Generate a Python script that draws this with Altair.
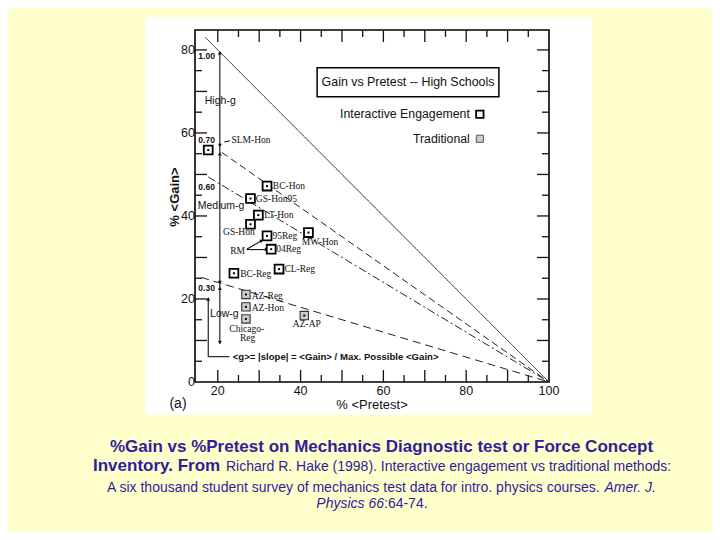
import altair as alt
import pandas as pd

W, H = 354, 352          # plot area
OX, OY = 195, 30         # page position of the plot origin
SANS = "Liberation Sans"
SERIF = "Liberation Serif"
INK = "#111111"
CAP = "#311d9c"

# ---------------- data ----------------
names = ["SLM-Hon", "BC-Hon", "GS-Hon95", "LT-Hon", "GS-Hon", "95Reg", "04Reg",
         "MW-Hon", "CL-Reg", "BC-Reg", "AZ-Reg", "AZ-Hon", "Chicago-Reg", "AZ-AP"]
pretest = [17.7, 31.9, 27.9, 29.8, 27.9, 31.9, 32.9, 41.9, 34.8, 23.9, 26.8, 26.8, 26.8, 40.9]
gain = [55.9, 47.2, 44.2, 40.2, 38.0, 35.2, 32.0, 36.0, 27.2, 26.2, 21.1, 18.1, 15.2, 16.0]
method = ["Interactive Engagement"] * 10 + ["Traditional"] * 4

# point labels (text, pretest, gain, align)
lab_text = ["SLM-Hon", "BC-Hon", "GS-Hon95", "LT-Hon", "GS-Hon", "95Reg", "04Reg",
            "MW-Hon", "CL-Reg", "BC-Reg", "AZ-Reg", "AZ-Hon", "Chicago-", "Reg", "AZ-AP", "RM"]
lab_x = [23.3, 33.3, 29.2, 31.2, 25.1, 33.2, 34.1, 44.7, 36.1, 25.4, 28.2, 28.2, 27.0, 27.2, 41.5, 24.8]
lab_y = [58.3, 47.2, 44.2, 40.2, 36.2, 35.1, 32.0, 33.7, 27.2, 25.9, 20.8, 17.8, 12.8, 10.6, 13.9, 31.6]
lab_align = ["left", "left", "left", "left", "center", "left", "left", "center",
             "left", "left", "left", "left", "center", "center", "center", "center"]

# isopleths <g> = gain / (100 - pretest)
g_names = ["1.00", "0.70", "0.60", "0.30"]
iso_x1 = [17.0, 21.0, 17.7, 16.0]
iso_y1 = [83.0, 55.3, 49.4, 25.2]
iso_x2 = [100, 100, 100, 100]
iso_y2 = [0, 0, 0, 0]
g_lab_x = [17.3, 17.3, 17.3, 17.3]
g_lab_y = [78.6, 58.2, 47.0, 22.7]

band_text = ["High-g", "Medium-g", "Low-g"]
band_x = [20.6, 20.8, 21.6]
band_y = [67.7, 42.5, 16.4]

# arrows
arrow_x1 = [20.5, 17.7, 17.7, 27.0, 27.0, 21.6]
arrow_y1 = [9.3, 6.1, 6.1, 32.0, 31.9, 57.8]
arrow_x2 = [20.5, 17.7, 22.8, 30.6, 31.8, 22.9]
arrow_y2 = [79.5, 20.3, 6.1, 34.05, 31.9, 58.1]
head_x = [20.5, 20.5, 20.5, 20.5, 20.5, 20.5, 17.7]
head_y = [79.3, 57.0, 55.0, 24.0, 22.6, 9.5, 20.0]
head_shape = ["triangle-up", "triangle-down", "triangle-up", "triangle-down",
              "triangle-up", "triangle-down", "triangle-up"]
head2_x = [30.6, 31.8]
head2_y = [34.05, 31.9]

x_major = [20, 30, 40, 50, 60, 70, 80, 90]
x_minor = [25, 35, 45, 55, 65, 75, 85, 95]
y_major = [10, 20, 30, 40, 50, 60, 70, 80]
y_minor = [5, 15, 25, 35, 45, 55, 65, 75]
x_labels = [20, 40, 60, 80, 100]
y_labels = [0, 20, 40, 60, 80]

title_box = [44.0, 87.9, 68.7, 75.7]
legend_x = 83.3
legend_y = [64.5, 58.6]

caption1 = "%Gain vs %Pretest on Mechanics Diagnostic test or Force Concept"
caption2a = "Inventory. From"
caption2b = "Richard R. Hake (1998). Interactive engagement vs traditional methods:"
caption3a = "A six thousand student survey of mechanics test data for intro. physics courses."
caption3b = "Amer. J."
caption4a = "Physics 66"
caption4b = ":64-74."

# ---------------- scales ----------------
xs = alt.Scale(domain=[14.5, 100], nice=False, zero=False)
ys = alt.Scale(domain=[0, 84.8], nice=False, zero=False)


def X(f):
    return alt.X(f, type="quantitative", scale=xs, axis=None)


def Y(f):
    return alt.Y(f, type="quantitative", scale=ys, axis=None)


one = pd.DataFrame({"a": [0]})
layers = []

# white scanned-figure background
layers.append(
    alt.Chart(one).mark_rect(fill="white").encode(
        x=alt.value(145 - OX), x2=alt.value(592 - OX),
        y=alt.value(17 - OY), y2=alt.value(415 - OY))
)

# frame
layers.append(
    alt.Chart(one).mark_rect(fill=None, stroke="black", strokeWidth=1.6).encode(
        x=alt.value(0), x2=alt.value(W), y=alt.value(0), y2=alt.value(H))
)

# tick labels and axis titles
layers.append(alt.Chart(pd.DataFrame({"v": x_labels})).mark_text(
    font=SANS, fontSize=12.5, color=INK, align="center", baseline="middle").encode(
    x=X("v"), y=alt.value(H + 9), text=alt.Text("v:Q", format="d")))
layers.append(alt.Chart(pd.DataFrame({"v": y_labels})).mark_text(
    font=SANS, fontSize=12.5, color=INK, align="right", baseline="middle").encode(
    y=Y("v"), x=alt.value(0), text=alt.Text("v:Q", format="d")))
layers.append(alt.Chart(pd.DataFrame({"t": ["% <Pretest>"]})).mark_text(
    font=SANS, fontSize=13, color=INK, align="center", baseline="middle").encode(
    x=alt.value(372 - OX), y=alt.value(405 - OY), text="t:N"))
layers.append(alt.Chart(pd.DataFrame({"t": ["% <Gain>"]})).mark_text(
    font=SANS, fontSize=13, fontWeight="bold", color=INK, align="center", baseline="middle",
    angle=270).encode(
    x=alt.value(175 - OX), y=alt.value(197 - OY), text="t:N"))

# ticks drawn inside on all four sides
for vals, ln in ((y_major, 12), (y_minor, 7)):
    d = pd.DataFrame({"v": vals})
    layers.append(alt.Chart(d).mark_rule(color=INK, strokeWidth=1.3).encode(
        y=Y("v"), x=alt.value(0), x2=alt.value(ln)))
    layers.append(alt.Chart(d).mark_rule(color=INK, strokeWidth=1.3).encode(
        y=Y("v"), x=alt.value(W - ln), x2=alt.value(W)))
for vals, ln in ((x_major, 12), (x_minor, 7)):
    d = pd.DataFrame({"v": vals})
    layers.append(alt.Chart(d).mark_rule(color=INK, strokeWidth=1.3).encode(
        x=X("v"), y=alt.value(H - ln), y2=alt.value(H)))
    layers.append(alt.Chart(d).mark_rule(color=INK, strokeWidth=1.3).encode(
        x=X("v"), y=alt.value(0), y2=alt.value(ln)))

# isopleth lines
dashes = {"1.00": [1, 0], "0.70": [7, 4], "0.60": [8, 3, 2, 3], "0.30": [8, 5]}
for i, g in enumerate(g_names):
    d = pd.DataFrame({"x1": [iso_x1[i]], "y1": [iso_y1[i]], "x2": [iso_x2[i]], "y2": [iso_y2[i]]})
    layers.append(alt.Chart(d).mark_rule(color="#222222", strokeWidth=1.0,
                                         strokeDash=dashes[g]).encode(
        x=X("x1"), y=Y("y1"), x2="x2:Q", y2="y2:Q"))

# g value labels
layers.append(alt.Chart(pd.DataFrame({"t": g_names, "x": g_lab_x, "y": g_lab_y})).mark_text(
    font=SANS, fontSize=8.5, fontWeight="bold", color=INK, align="center", baseline="middle").encode(
    x=X("x"), y=Y("y"), text="t:N"))

# band labels
layers.append(alt.Chart(pd.DataFrame({"t": band_text, "x": band_x, "y": band_y})).mark_text(
    font=SANS, fontSize=10.5, color=INK, align="center", baseline="middle").encode(
    x=X("x"), y=Y("y"), text="t:N"))

# arrows
layers.append(alt.Chart(pd.DataFrame({"x1": arrow_x1, "y1": arrow_y1, "x2": arrow_x2, "y2": arrow_y2}))
              .mark_rule(color=INK, strokeWidth=1.1).encode(
    x=X("x1"), y=Y("y1"), x2="x2:Q", y2="y2:Q"))
layers.append(alt.Chart(pd.DataFrame({"x": head_x, "y": head_y, "s": head_shape})).mark_point(
    filled=True, color=INK, size=16, opacity=1).encode(
    x=X("x"), y=Y("y"), shape=alt.Shape("s:N", scale=None, legend=None)))
layers.append(alt.Chart(pd.DataFrame({"x": head2_x[:1], "y": head2_y[:1]})).mark_point(
    filled=True, color=INK, size=16, opacity=1, shape="triangle-right", angle=330).encode(
    x=X("x"), y=Y("y")))
layers.append(alt.Chart(pd.DataFrame({"x": head2_x[1:], "y": head2_y[1:]})).mark_point(
    filled=True, color=INK, size=16, opacity=1, shape="triangle-right").encode(
    x=X("x"), y=Y("y")))

# formula text
layers.append(alt.Chart(pd.DataFrame({"t": ["<g>= |slope| = <Gain> / Max. Possible <Gain>"],
                                      "x": [23.6], "y": [6.1]})).mark_text(
    font=SANS, fontSize=9.6, fontWeight="bold", color=INK, align="left", baseline="middle").encode(
    x=X("x"), y=Y("y"), text="t:N"))

# data points
pts = pd.DataFrame({"name": names, "pretest": pretest, "gain": gain, "method": method})
ie = pts[pts.method == "Interactive Engagement"]
tr = pts[pts.method == "Traditional"]
layers.append(alt.Chart(ie).mark_point(shape="square", size=78, filled=True, fill="white",
                                       stroke="black", strokeWidth=1.8, opacity=1).encode(
    x=X("pretest"), y=Y("gain")))
layers.append(alt.Chart(tr).mark_point(shape="square", size=70, filled=True, fill="#cccccc",
                                       stroke="#333333", strokeWidth=1.1, opacity=1).encode(
    x=X("pretest"), y=Y("gain")))
layers.append(alt.Chart(pts).mark_point(shape="square", size=4, filled=True, color="black",
                                        opacity=1).encode(x=X("pretest"), y=Y("gain")))

# point labels
labs = pd.DataFrame({"t": lab_text, "x": lab_x, "y": lab_y, "a": lab_align})
for al in ("left", "center"):
    layers.append(alt.Chart(labs[labs.a == al]).mark_text(
        font=SERIF, fontSize=9.5, color=INK, align=al, baseline="middle").encode(
        x=X("x"), y=Y("y"), text="t:N"))

# title box + legend
layers.append(alt.Chart(pd.DataFrame({"x1": [title_box[0]], "x2": [title_box[1]],
                                      "y1": [title_box[2]], "y2": [title_box[3]]})).mark_rect(
    fill="white", stroke="black", strokeWidth=1.5).encode(
    x=X("x1"), x2="x2:Q", y=Y("y1"), y2="y2:Q"))
layers.append(alt.Chart(pd.DataFrame({"t": ["Gain vs Pretest -- High Schools"],
                                      "x": [(title_box[0] + title_box[1]) / 2],
                                      "y": [(title_box[2] + title_box[3]) / 2]})).mark_text(
    font=SANS, fontSize=12.4, color=INK, align="center", baseline="middle").encode(
    x=X("x"), y=Y("y"), text="t:N"))
leg = pd.DataFrame({"t": ["Interactive Engagement", "Traditional"],
                    "x": [legend_x, legend_x], "y": legend_y})
layers.append(alt.Chart(leg).mark_text(font=SANS, fontSize=12.3, color=INK, align="right",
                                       baseline="middle", dx=-10).encode(
    x=X("x"), y=Y("y"), text="t:N"))
layers.append(alt.Chart(leg.iloc[:1]).mark_point(shape="square", size=55, filled=True, fill="white",
                                                 stroke="black", strokeWidth=1.8, opacity=1).encode(
    x=X("x"), y=Y("y")))
layers.append(alt.Chart(leg.iloc[1:]).mark_point(shape="square", size=50, filled=True, fill="#cccccc",
                                                 stroke="#555555", strokeWidth=1.0, opacity=1).encode(
    x=X("x"), y=Y("y")))

# "(a)"
layers.append(alt.Chart(pd.DataFrame({"t": ["(a)"]})).mark_text(
    font=SANS, fontSize=14, color=INK, align="center", baseline="middle").encode(
    x=alt.value(178 - OX), y=alt.value(404 - OY), text="t:N"))


# caption
def cap(text, px, py, size, weight="normal", style="normal", align="left"):
    return alt.Chart(pd.DataFrame({"t": [text]})).mark_text(
        font=SANS, fontSize=size, fontWeight=weight, fontStyle=style, color=CAP,
        align=align, baseline="alphabetic").encode(
        x=alt.value(px - OX), y=alt.value(py - OY), text="t:N")


layers += [
    cap(caption1, 381.5, 452, 17, weight="bold", align="center"),
    cap(caption2a, 93, 471, 17, weight="bold"),
    cap(caption2b, 226, 471, 14),
    cap(caption3a, 107, 491.5, 14),
    cap(caption3b, 656, 491.5, 14, style="italic", align="right"),
    cap(caption4a, 384, 508, 14, style="italic", align="right"),
    cap(caption4b, 384, 508, 14),
]

chart = alt.layer(*layers).properties(
    width=W, height=H,
    padding={"left": OX - 8, "top": OY - 8, "right": 704 - (OX - 8) - W, "bottom": 524 - (OY - 8) - H},
    autosize=alt.AutoSizeParams(type="none"),
    background="#FFFFCC",
).configure_view(stroke=None)

chart.save("out.html", embed_options={"renderer": "svg", "actions": False})
